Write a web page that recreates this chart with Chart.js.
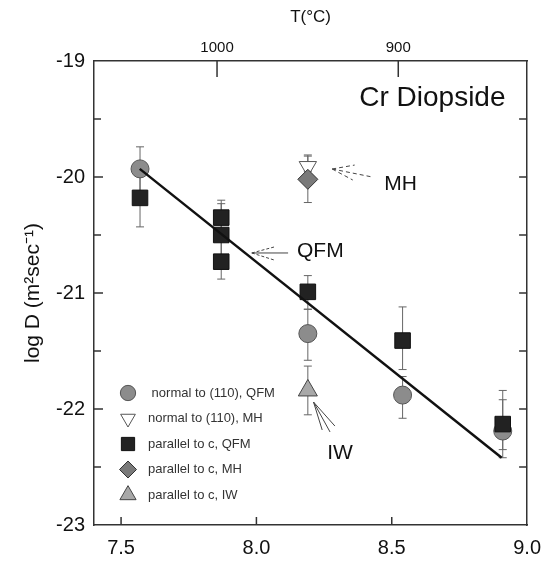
<!DOCTYPE html>
<html>
<head>
<meta charset="utf-8">
<script src="https://cdn.jsdelivr.net/npm/chart.js@4.4.1/dist/chart.umd.min.js"></script>
<style>
  html, body { margin: 0; padding: 0; background: #fff; }
  #wrap { width: 552px; height: 561px; }
</style>
</head>
<body>
<div id="wrap"><canvas id="chart"></canvas></div>
<script>
/* Cr diopside diffusion — log D vs 10^4/T */

const FONT = "'Liberation Sans', Arial, sans-serif";

// normal to (110), QFM
const normQfmX = [7.57, 8.19, 8.54, 8.91];
const normQfmY = [-19.93, -21.35, -21.88, -22.19];
const normQfmLo = [-20.12, -21.58, -22.08, -22.42];
const normQfmHi = [-19.74, -21.14, -21.72, -21.92];

// normal to (110), MH
const normMhX = [8.19];
const normMhY = [-19.91];
const normMhLo = [-19.95];
const normMhHi = [-19.81];

// parallel to c, QFM
const parQfmX = [7.57, 7.87, 7.87, 7.87, 8.19, 8.54, 8.91];
const parQfmY = [-20.18, -20.35, -20.50, -20.73, -20.99, -21.41, -22.13];
const parQfmLo = [-20.43, -20.55, -20.70, -20.88, -21.14, -21.66, -22.35];
const parQfmHi = [-19.98, -20.20, -20.23, -20.55, -20.85, -21.12, -21.84];

// parallel to c, MH
const parMhX = [8.19];
const parMhY = [-20.02];
const parMhLo = [-20.22];
const parMhHi = [-19.82];

// parallel to c, IW
const parIwX = [8.19];
const parIwY = [-21.84];
const parIwLo = [-22.05];
const parIwHi = [-21.63];

// fitted line
const fitX = [7.569, 8.906];
const fitY = [-19.93, -22.42];

// axes
const xTicks = [7.5, 8.0, 8.5, 9.0];
const yTicks = [-19, -20, -21, -22, -23];
const yHalfTicks = [-19.5, -20.5, -21.5, -22.5];
const tempTicks = [1000, 900];

const legendLabels = [
  ' normal to (110), QFM',
  'normal to (110), MH',
  'parallel to c, QFM',
  'parallel to c, MH',
  'parallel to c, IW'
];

// notes: [text, x, y, size]
const notes = [
  ['Cr Diopside', 8.65, -19.32, 28],
  ['MH', 8.533, -20.06, 21],
  ['QFM', 8.236, -20.64, 21],
  ['IW', 8.309, -22.38, 21]
];
// arrows: tip then tails, data coords
const arrows = [
  { dash: [4, 3], tip: [8.280, -19.931], ends: [[8.428, -20.0], [8.363, -19.897], [8.356, -20.026]] },
  { dash: [], tip: [7.983, -20.655], ends: [[8.117, -20.655]] },
  { dash: [3, 2], tip: [7.983, -20.655], ends: [[8.066, -20.603], [8.066, -20.716]] },
  { dash: [], tip: [8.211, -21.94], ends: [[8.272, -22.198], [8.243, -22.181], [8.29, -22.147]] }
];

const pts = (xs, ys) => xs.map((x, i) => ({ x, y: ys[i] }));

const errorBars = {
  id: 'errorBars',
  beforeDatasetsDraw(chart) {
    const { ctx, scales: { x, y } } = chart;
    ctx.save();
    ctx.strokeStyle = '#666';
    ctx.lineWidth = 1;
    chart.data.datasets.forEach(ds => {
      if (!ds.errLo) return;
      ds.data.forEach((p, i) => {
        const px = x.getPixelForValue(p.x);
        const y1 = y.getPixelForValue(ds.errLo[i]);
        const y2 = y.getPixelForValue(ds.errHi[i]);
        ctx.beginPath();
        ctx.moveTo(px, y1); ctx.lineTo(px, y2);
        ctx.moveTo(px - 4, y1); ctx.lineTo(px + 4, y1);
        ctx.moveTo(px - 4, y2); ctx.lineTo(px + 4, y2);
        ctx.stroke();
      });
    });
    ctx.restore();
  }
};

const decor = {
  id: 'decor',
  afterDraw(chart) {
    const { ctx, chartArea: a, scales: { x, y, xTop } } = chart;
    ctx.save();
    // inward ticks
    ctx.strokeStyle = '#333';
    ctx.lineWidth = 1.5;
    ctx.beginPath();
    xTicks.forEach(v => {
      const px = x.getPixelForValue(v);
      if (px > a.right - 2) return;
      ctx.moveTo(px, a.bottom); ctx.lineTo(px, a.bottom - 8);
    });
    xTop.ticks.forEach(t => {
      const px = xTop.getPixelForValue(t.value);
      ctx.moveTo(px, a.top); ctx.lineTo(px, a.top + 16);
    });
    yTicks.concat(yHalfTicks).forEach(v => {
      const py = y.getPixelForValue(v);
      if (py < a.top + 2 || py > a.bottom - 2) return;
      const len = Number.isInteger(v) ? 9 : 7;
      ctx.moveTo(a.left, py); ctx.lineTo(a.left + len, py);
      ctx.moveTo(a.right, py); ctx.lineTo(a.right - 8, py);
    });
    ctx.stroke();

    // arrows
    ctx.strokeStyle = '#444';
    ctx.lineWidth = 1;
    arrows.forEach(ar => {
      ctx.setLineDash(ar.dash);
      const tx = x.getPixelForValue(ar.tip[0]);
      const ty = y.getPixelForValue(ar.tip[1]);
      ctx.beginPath();
      ar.ends.forEach(e => {
        ctx.moveTo(tx, ty);
        ctx.lineTo(x.getPixelForValue(e[0]), y.getPixelForValue(e[1]));
      });
      ctx.stroke();
    });
    ctx.setLineDash([]);

    // notes
    ctx.fillStyle = '#111';
    ctx.textAlign = 'center';
    ctx.textBaseline = 'middle';
    notes.forEach(([t, vx, vy, size]) => {
      ctx.font = size + 'px ' + FONT;
      ctx.fillText(t, x.getPixelForValue(vx), y.getPixelForValue(vy));
    });

    // legend
    const items = chart.data.datasets.filter(ds => ds.legendIndex !== undefined)
      .sort((p, q) => p.legendIndex - q.legendIndex);
    ctx.font = '13px ' + FONT;
    ctx.textAlign = 'left';
    items.forEach((ds, i) => {
      const ly = a.bottom - 132 + i * 25.5;
      const lx = a.left + 34;
      ctx.fillStyle = ds.backgroundColor;
      ctx.strokeStyle = ds.borderColor;
      ctx.lineWidth = 1;
      Chart.helpers.drawPoint(ctx, {
        pointStyle: ds.pointStyle,
        radius: ds.pointRadius * 0.85,
        rotation: ds.pointRotation || 0,
        borderWidth: 1
      }, lx, ly);
      ctx.fillStyle = '#333';
      ctx.fillText(legendLabels[ds.legendIndex], a.left + 54, ly);
    });
    ctx.restore();
  }
};

new Chart(document.getElementById('chart'), {
  type: 'scatter',
  data: {
    datasets: [
      {
        type: 'line', data: pts(fitX, fitY), borderColor: '#111', borderWidth: 2.5,
        pointRadius: 0, fill: false, order: 0
      },
      {
        data: pts(parMhX, parMhY), errLo: parMhLo, errHi: parMhHi, legendIndex: 3,
        pointStyle: 'rectRot', pointRadius: 10, backgroundColor: '#7a7a7a',
        borderColor: '#333', borderWidth: 1, order: 1
      },
      {
        data: pts(normMhX, normMhY), errLo: normMhLo, errHi: normMhHi, legendIndex: 1,
        pointStyle: 'triangle', pointRotation: 180, pointRadius: 10,
        backgroundColor: '#ffffff', borderColor: '#555', borderWidth: 1, order: 2
      },
      {
        data: pts(normQfmX, normQfmY), errLo: normQfmLo, errHi: normQfmHi, legendIndex: 0,
        pointStyle: 'circle', pointRadius: 9, backgroundColor: '#8c8c8c',
        borderColor: '#555', borderWidth: 1, order: 4
      },
      {
        data: pts(parQfmX, parQfmY), errLo: parQfmLo, errHi: parQfmHi, legendIndex: 2,
        pointStyle: 'rect', pointRadius: 11, backgroundColor: '#222222',
        borderColor: '#111', borderWidth: 1, order: 3
      },
      {
        data: pts(parIwX, parIwY), errLo: parIwLo, errHi: parIwHi, legendIndex: 4,
        pointStyle: 'triangle', pointRadius: 11, backgroundColor: '#a8a8a8',
        borderColor: '#444', borderWidth: 1, order: 2
      }
    ]
  },
  options: {
    responsive: true,
    maintainAspectRatio: false,
    animation: false,
    layout: { padding: 0 },
    plugins: { legend: { display: false }, tooltip: { enabled: false } },
    scales: {
      x: {
        type: 'linear', position: 'bottom', min: 7.4, max: 9.0,
        afterBuildTicks: s => { s.ticks = xTicks.map(v => ({ value: v })); },
        afterFit: s => { s.height = 36; },
        grid: { display: false, drawTicks: false },
        border: { color: '#333', width: 1.5 },
        ticks: { padding: 11, color: '#111', font: { family: FONT, size: 20 }, callback: v => v.toFixed(1) }
      },
      xTop: {
        type: 'linear', position: 'top', min: 7.4, max: 9.0,
        afterBuildTicks: s => { s.ticks = tempTicks.map(t => ({ value: 1e4 / (t + 273.15) })); },
        afterFit: s => { s.height = 61; },
        grid: { display: false, drawTicks: false },
        border: { color: '#333', width: 1.5 },
        ticks: { padding: 4, color: '#111', font: { family: FONT, size: 15 }, callback: v => Math.round(1e4 / v - 273.15) },
        title: { display: true, text: 'T(°C)', color: '#111', font: { family: FONT, size: 17 }, padding: { top: 7, bottom: 0 } }
      },
      y: {
        type: 'linear', position: 'left', min: -23, max: -19,
        afterBuildTicks: s => { s.ticks = yTicks.map(v => ({ value: v })); },
        afterFit: s => { s.width = 94; },
        grid: { display: false, drawTicks: false },
        border: { color: '#333', width: 1.5 },
        ticks: { padding: 9, color: '#111', font: { family: FONT, size: 20 }, callback: v => String(v) },
        title: { display: true, text: 'log D (m²sec⁻¹)', color: '#111', font: { family: FONT, size: 21 }, padding: { top: 21, bottom: 0 } }
      },
      yRight: {
        type: 'linear', position: 'right', min: -23, max: -19,
        afterFit: s => { s.width = 16; },
        grid: { display: false, drawTicks: false },
        border: { color: '#333', width: 1.5 },
        ticks: { display: false }
      }
    }
  },
  plugins: [errorBars, decor]
});
</script>
</body>
</html>
